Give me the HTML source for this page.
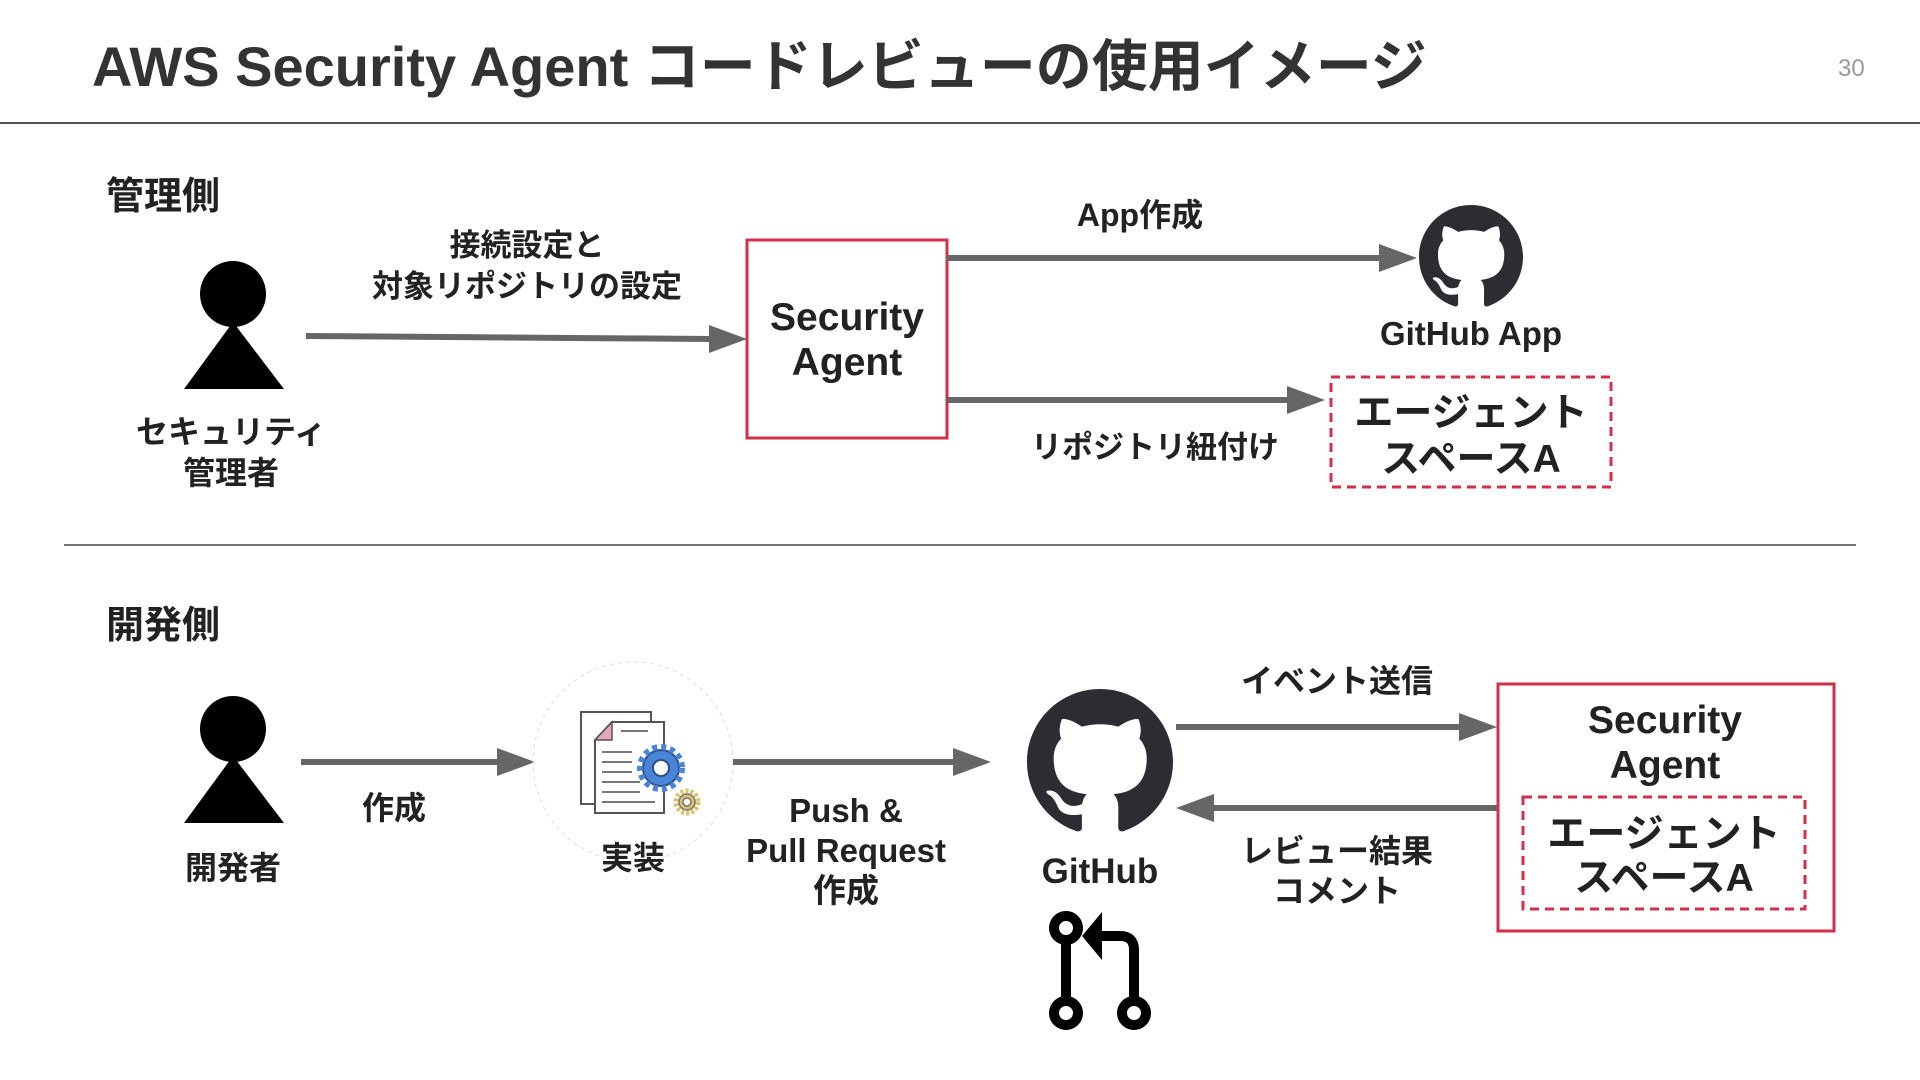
<!DOCTYPE html>
<html><head><meta charset="utf-8">
<style>
html,body{margin:0;padding:0;background:#fff;}
svg{display:block;}
text{font-family:"Liberation Sans","Noto Sans CJK JP",sans-serif;font-weight:700;fill:#222;}
</style></head>
<body>
<svg width="1920" height="1080" viewBox="0 0 1920 1080" xmlns="http://www.w3.org/2000/svg">
<defs>
<symbol id="gh" viewBox="0 0 16 16"><path fill="#2b2d33" fill-rule="evenodd" d="M8 0C3.58 0 0 3.58 0 8c0 3.54 2.29 6.53 5.47 7.59.4.07.55-.17.55-.38 0-.19-.01-.82-.01-1.49-2.01.37-2.53-.49-2.690-.94-.09-.23-.48-.94-.82-1.13-.28-.15-.68-.52-.01-.53.63-.01 1.08.58 1.23.82.72 1.21 1.87.87 2.33.66.07-.52.28-.87.51-1.07-1.78-.2-3.64-.89-3.64-3.95 0-.87.31-1.59.82-2.15-.08-.2-.36-1.02.08-2.12 0 0 .67-.21 2.2.82.64-.18 1.32-.27 2-.27.68 0 1.36.09 2 .27 1.53-1.04 2.2-.82 2.2-.82.44 1.1.16 1.92.08 2.12.51.56.82 1.27.82 2.15 0 3.07-1.87 3.75-3.65 3.95.29.25.54.73.54 1.48 0 1.07-.01 1.93-.01 2.2 0 .21.15.46.55.38A8.013 8.013 0 0016 8c0-4.42-3.58-8-8-8z"/></symbol>
</defs>

<text x="92" y="86" font-size="56" style="fill:#333">AWS Security Agent コードレビューの使用イメージ</text>
<text x="1838" y="76" font-size="24" style="fill:#999;font-weight:400">30</text>
<line x1="0" y1="123" x2="1920" y2="123" stroke="#555" stroke-width="2"/>
<line x1="64" y1="545" x2="1856" y2="545" stroke="#777" stroke-width="2"/>

<text x="106" y="209" font-size="38">管理側</text>
<text x="106" y="638" font-size="38">開発側</text>

<circle cx="233" cy="294" r="33" fill="#000"/>
<polygon points="233,322 184,389 284,389" fill="#000"/>
<text x="231" y="443" font-size="32" text-anchor="middle">セキュリティ</text>
<text x="231" y="484" font-size="32" text-anchor="middle">管理者</text>

<line x1="306" y1="336" x2="712" y2="339" stroke="#666" stroke-width="6"/>
<polygon points="747,339 709,325 709,353" fill="#666"/>
<text x="527" y="256" font-size="31" text-anchor="middle">接続設定と</text>
<text x="527" y="297" font-size="31" text-anchor="middle">対象リポジトリの設定</text>

<rect x="747" y="240" width="200" height="198" fill="#fff" stroke="#d0304a" stroke-width="3"/>
<text x="847" y="330" font-size="39" text-anchor="middle">Security</text>
<text x="847" y="375" font-size="39" text-anchor="middle">Agent</text>

<line x1="947" y1="258" x2="1382" y2="258" stroke="#666" stroke-width="6"/>
<polygon points="1417,258 1379,244 1379,272" fill="#666"/>
<text x="1140" y="226" font-size="32" text-anchor="middle">App作成</text>

<use href="#gh" x="1419" y="205" width="104" height="104"/>
<text x="1471" y="345" font-size="33" text-anchor="middle">GitHub App</text>

<line x1="947" y1="400" x2="1290" y2="400" stroke="#666" stroke-width="6"/>
<polygon points="1325,400 1287,386 1287,414" fill="#666"/>
<text x="1155" y="458" font-size="31" text-anchor="middle">リポジトリ紐付け</text>

<rect x="1331" y="377" width="280" height="110" fill="none" stroke="#d0304a" stroke-width="3" stroke-dasharray="9,6"/>
<text x="1471" y="426" font-size="39" text-anchor="middle">エージェント</text>
<text x="1471" y="472" font-size="39" text-anchor="middle">スペースA</text>

<circle cx="233" cy="729" r="33" fill="#000"/>
<polygon points="233,756 184,823 284,823" fill="#000"/>
<text x="233" y="879" font-size="32" text-anchor="middle">開発者</text>

<line x1="301" y1="762" x2="500" y2="762" stroke="#666" stroke-width="6"/>
<polygon points="535,762 497,748 497,776" fill="#666"/>
<text x="394" y="819" font-size="32" text-anchor="middle">作成</text>

<circle cx="633" cy="762" r="100" fill="none" stroke="#ddd" stroke-width="1" stroke-dasharray="4,4"/>
<rect x="581" y="712" width="70" height="92" fill="#fff" stroke="#555" stroke-width="2"/>
<path d="M612 722 H664 V813 H595 V740 Z" fill="#fff" stroke="#555" stroke-width="2"/>
<path d="M595 740 L612 722 V740 Z" fill="#e7a7b6" stroke="#555" stroke-width="1.5"/>
<g stroke="#777" stroke-width="2">
<line x1="621" y1="731" x2="648" y2="731"/>
<line x1="602" y1="752" x2="632" y2="752"/>
<line x1="602" y1="762" x2="632" y2="762"/>
<line x1="602" y1="772" x2="632" y2="772"/>
<line x1="602" y1="782" x2="640" y2="782"/>
<line x1="602" y1="792" x2="640" y2="792"/>
<line x1="602" y1="802" x2="655" y2="802"/>
</g>
<circle cx="661" cy="768" r="18" fill="#4a84d8" stroke="#2c4f8a" stroke-width="2"/>
<circle cx="661" cy="768" r="21" fill="none" stroke="#4a84d8" stroke-width="6" stroke-dasharray="5,4"/>
<circle cx="661" cy="768" r="8" fill="#fff" stroke="#2c4f8a" stroke-width="2"/>
<circle cx="687" cy="802" r="11" fill="none" stroke="#d9c36c" stroke-width="5" stroke-dasharray="3,2"/>
<circle cx="687" cy="802" r="8" fill="#d9c36c" stroke="#777" stroke-width="1.5"/>
<circle cx="687" cy="802" r="4" fill="#fff" stroke="#777" stroke-width="1.5"/>
<text x="633" y="869" font-size="32" text-anchor="middle">実装</text>

<line x1="733" y1="762" x2="954" y2="762" stroke="#666" stroke-width="6"/>
<polygon points="991,762 953,748 953,776" fill="#666"/>
<text x="846" y="822" font-size="33" text-anchor="middle">Push &amp;</text>
<text x="846" y="862" font-size="33" text-anchor="middle">Pull Request</text>
<text x="846" y="902" font-size="33" text-anchor="middle">作成</text>

<use href="#gh" x="1027" y="689" width="146" height="146"/>
<text x="1100" y="883" font-size="35" text-anchor="middle">GitHub</text>

<g fill="none" stroke="#000" stroke-width="10">
<line x1="1066" y1="941" x2="1066" y2="1000"/>
<circle cx="1066" cy="928" r="12" fill="#fff"/>
<circle cx="1066" cy="1013" r="12" fill="#fff"/>
<path d="M1095 936 H1120 Q1134 936 1134 950 V1000"/>
<circle cx="1134" cy="1013" r="12" fill="#fff"/>
</g>
<polygon points="1082,936 1102,912 1102,960" fill="#000"/>

<line x1="1176" y1="727" x2="1462" y2="727" stroke="#666" stroke-width="6"/>
<polygon points="1497,727 1459,713 1459,741" fill="#666"/>
<text x="1337" y="692" font-size="32" text-anchor="middle">イベント送信</text>

<line x1="1212" y1="808" x2="1497" y2="808" stroke="#666" stroke-width="6"/>
<polygon points="1176,808 1214,794 1214,822" fill="#666"/>
<text x="1337" y="862" font-size="32" text-anchor="middle">レビュー結果</text>
<text x="1337" y="902" font-size="32" text-anchor="middle">コメント</text>

<rect x="1498" y="684" width="336" height="247" fill="#fff" stroke="#d0304a" stroke-width="3"/>
<text x="1665" y="733" font-size="39" text-anchor="middle">Security</text>
<text x="1665" y="778" font-size="39" text-anchor="middle">Agent</text>
<rect x="1523" y="797" width="282" height="112" fill="none" stroke="#d0304a" stroke-width="3" stroke-dasharray="9,6"/>
<text x="1664" y="847" font-size="39" text-anchor="middle">エージェント</text>
<text x="1664" y="891" font-size="39" text-anchor="middle">スペースA</text>
</svg>
</body></html>
